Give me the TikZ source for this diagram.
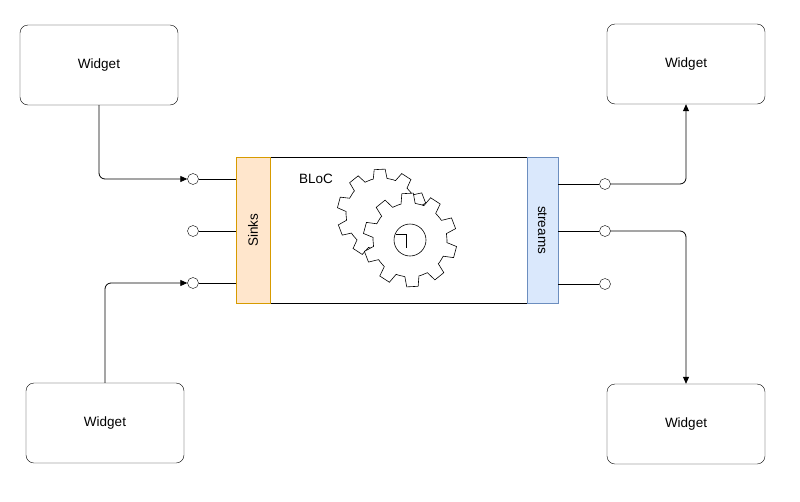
\documentclass[tikz,border=0pt]{standalone}
\usepackage{fontspec}
\setmainfont{Liberation Sans}
\usetikzlibrary{arrows.meta}
\definecolor{obord}{HTML}{D79B00}
\definecolor{ofill}{HTML}{FFE6CC}
\definecolor{bbord}{HTML}{6C8EBF}
\definecolor{bfill}{HTML}{DAE8FC}
\begin{document}
\begin{tikzpicture}[x=1pt,y=-1pt,
  txt/.style={font=\fontsize{13.5}{15}\selectfont},
  widget/.style={draw,rounded corners=8pt,minimum width=158pt,minimum height=80pt,txt},
  port/.style={circle,draw,fill=white,minimum size=11pt,inner sep=0pt},
  arr/.style={-{Triangle[length=7pt,width=6pt]},line width=0.8pt},
  gear/.style={draw,line width=0.6pt,fill=white}]
\useasboundingbox (0,0) rectangle (800,501);
\node[widget] (w1) at (99,65) {Widget};
\node[widget] (w2) at (686,64) {Widget};
\node[widget] (w3) at (105,423) {Widget};
\node[widget] (w4) at (686,424) {Widget};
\node[draw,minimum width=322pt,minimum height=146pt,inner sep=0pt] (bloc) at (397,230) {};
\node[draw=obord,fill=ofill,minimum width=34pt,minimum height=146pt,inner sep=0pt] (sinks) at (253,230) {};
\node[rotate=90,txt] at (sinks) {Sinks};
\node[draw=bbord,fill=bfill,minimum width=31pt,minimum height=146pt,inner sep=0pt] (streams) at (542.5,230) {};
\node[rotate=-90,txt] at (streams) {streams};
\node[txt] (lbl) at (316,179) {BLoC};
% gears
\begin{scope}[shift={(382,214)}]
\draw[gear] (0:36) \foreach \i in {0,...,9} {
  -- ({\i*36+4}:36) -- ({\i*36+8}:45) -- ({\i*36+22}:45) -- ({\i*36+26}:36) -- ({\i*36+36}:36)} -- cycle;
\end{scope}
\begin{scope}[shift={(410,240)}]
\draw[gear] (0:37) \foreach \i in {0,...,9} {
  -- ({\i*36+4}:37) -- ({\i*36+8}:47) -- ({\i*36+22}:47) -- ({\i*36+26}:37) -- ({\i*36+36}:37)} -- cycle;
\draw[line width=0.6pt] (0,0) circle (16);
\draw[line width=0.6pt] (-14,-6) -- (-4,-6) -- (-4,8);
\end{scope}
% ports
\node[port] (l1) at (193,179) {};
\node[port] (l2) at (193,231) {};
\node[port] (l3) at (193,283) {};
\node[port] (r1) at (605,184) {};
\node[port] (r2) at (605,231) {};
\node[port] (r3) at (605,284) {};
\draw (l1) -- (l1 -| bloc.west);
\draw (l2) -- (l2 -| bloc.west);
\draw (l3) -- (l3 -| bloc.west);
\draw (r1) -- (r1 -| bloc.east);
\draw (r2) -- (r2 -| bloc.east);
\draw (r3) -- (r3 -| bloc.east);
\draw[arr,rounded corners=6pt] (w1.south) |- (l1);
\draw[arr,rounded corners=6pt] (w3.north) |- (l3);
\draw[arr,rounded corners=6pt] (r1) -| (w2.south);
\draw[arr,rounded corners=6pt] (r2) -| (w4.north);
\end{tikzpicture}
\end{document}
